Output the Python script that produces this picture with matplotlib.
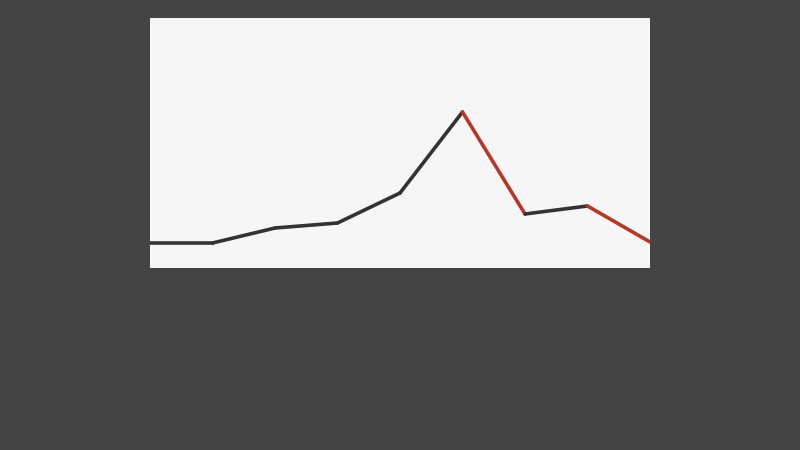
import matplotlib
matplotlib.use("Agg")
import matplotlib.pyplot as plt

# values (y axis 0..100)
x_idx = [0, 1, 2, 3, 4, 5, 6, 7, 8]
values = [10, 10, 16, 18, 30, 62.4, 21.6, 24.8, 10.4]

BG = "#444444"
PANEL = "#f6f6f6"
UP = "#333333"
DOWN = "#b5382b"

fig = plt.figure(figsize=(8, 4.5), dpi=100, facecolor=BG)
ax = fig.add_axes([150 / 800, (450 - 268) / 450, 500 / 800, 250 / 450])
ax.set_facecolor(PANEL)

# colour each segment by its direction: falling -> red
for i in range(len(values) - 1):
    color = DOWN if values[i + 1] < values[i] else UP
    ax.plot(x_idx[i:i + 2], values[i:i + 2], color=color, lw=2.6,
            solid_capstyle="round", solid_joinstyle="miter")

ax.set_xlim(x_idx[0], x_idx[-1])
ax.set_ylim(0, 100)
ax.set_xticks([])
ax.set_yticks([])
for s in ax.spines.values():
    s.set_visible(False)

fig.savefig("out.png", facecolor=BG)
